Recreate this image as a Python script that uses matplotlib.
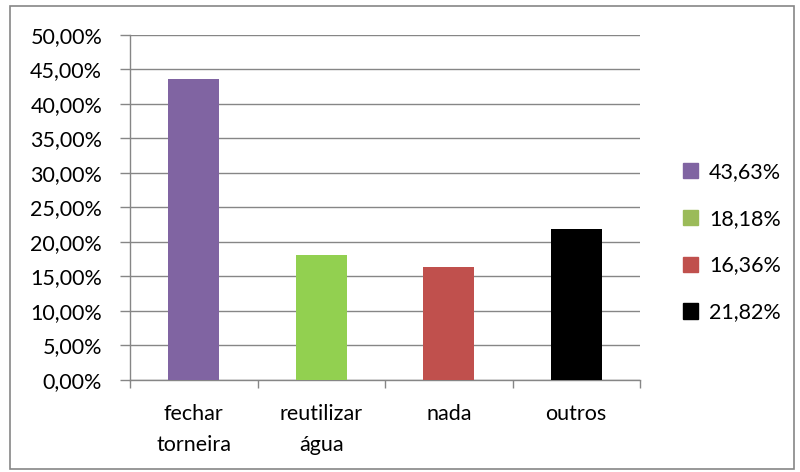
import matplotlib.pyplot as plt
import matplotlib.patches as mpatches
from matplotlib.ticker import FuncFormatter, MultipleLocator
import numpy as np

categories = ['fechar\ntorneira', 'reutilizar\nágua', 'nada', 'outros']
values = [43.63, 18.18, 16.36, 21.82]
legend_labels = ['43,63%', '18,18%', '16,36%', '21,82%']
bar_colors = ['#8064A2', '#92D050', '#C0504D', '#000000']
legend_colors = ['#8064A2', '#9BBB59', '#C0504D', '#000000']

plt.rcParams['font.family'] = ['Lato', 'DejaVu Sans']
grey = '#868686'

fig = plt.figure(figsize=(8, 4.72), dpi=100)
ax = fig.add_axes([0.1625, 0.195, 0.6375, 0.731])

x = np.arange(len(categories))
ax.bar(x, values, width=0.4, color=bar_colors, zorder=3)

ax.set_xlim(-0.5, len(categories) - 0.5)
ax.set_ylim(0, 50)
ax.yaxis.set_major_locator(MultipleLocator(5))
ax.yaxis.set_major_formatter(FuncFormatter(lambda v, p: f'{v:.2f}%'.replace('.', ',')))
ax.grid(axis='y', color=grey, linewidth=1, zorder=0)

ax.set_xticks(np.arange(-0.5, len(categories), 1))
ax.set_xticklabels([])
ax.set_xticks(x, minor=True)
ax.set_xticklabels(categories, minor=True, fontsize=15.5, linespacing=1.7)
ax.tick_params(axis='x', which='minor', length=0, pad=17)
ax.tick_params(axis='x', which='major', length=6, color=grey, width=1)
ax.tick_params(axis='y', length=7, color=grey, width=1, labelsize=15.5, pad=13)

for s in ['top', 'right']:
    ax.spines[s].set_visible(False)
for s in ['left', 'bottom']:
    ax.spines[s].set_color(grey)
    ax.spines[s].set_linewidth(1)

handles = [mpatches.Patch(color=c, label=l) for c, l in zip(legend_colors, legend_labels)]
fig.legend(handles=handles, loc='center left', bbox_to_anchor=(0.83, 0.487),
           frameon=False, fontsize=15.5, handlelength=0.7, handleheight=0.7,
           handletextpad=0.5, labelspacing=1.25)

fig.patches.append(mpatches.Rectangle((0.013, 0.006), 0.98, 0.982, transform=fig.transFigure,
                                      fill=False, edgecolor=grey, linewidth=1.2))

fig.savefig('out.png', dpi=100)
